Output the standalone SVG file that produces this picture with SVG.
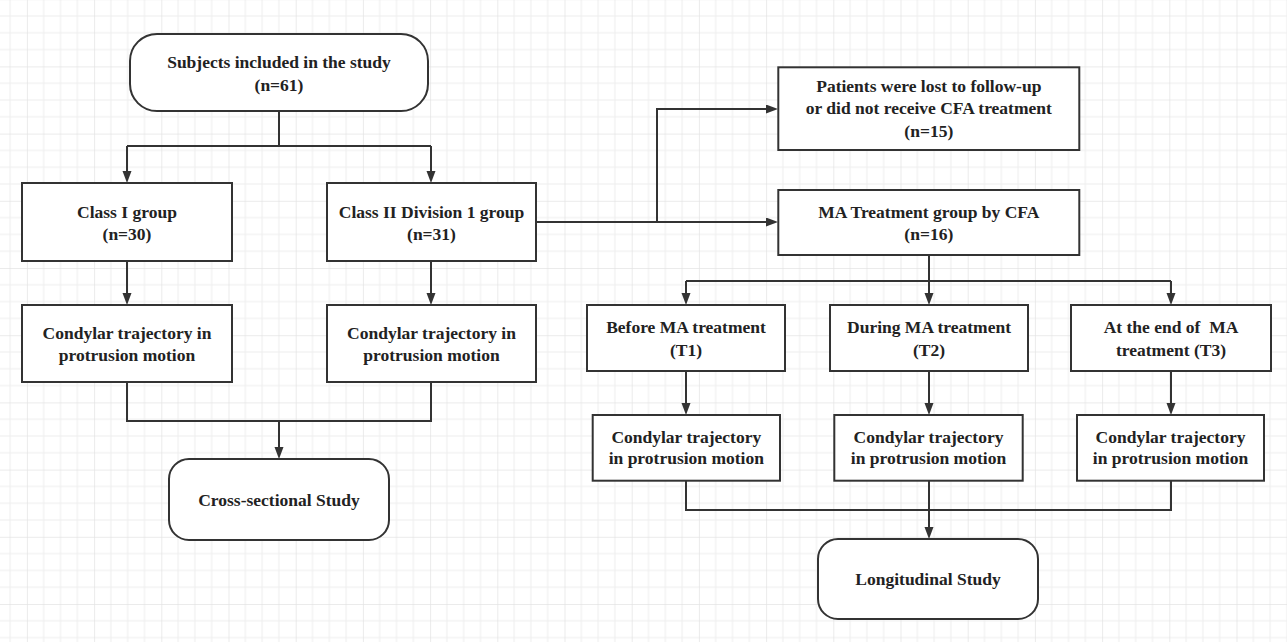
<svg xmlns="http://www.w3.org/2000/svg" width="1287" height="642" viewBox="0 0 1287 642">
<defs>
<pattern id="grid" patternUnits="userSpaceOnUse" x="26.9" y="66.4" width="67.2" height="67.2">
<rect x="0" y="0" width="67.2" height="67.2" fill="#ffffff"/>
<g fill="#efefef">
<rect x="16.3" y="0" width="1" height="67.2"/>
<rect x="33.1" y="0" width="1" height="67.2"/>
<rect x="49.9" y="0" width="1" height="67.2"/>
<rect x="0" y="16.3" width="67.2" height="1"/>
<rect x="0" y="33.1" width="67.2" height="1"/>
<rect x="0" y="49.9" width="67.2" height="1"/>
</g>
<g fill="#e3e3e3">
<rect x="-0.6" y="0" width="1.3" height="67.2"/>
<rect x="0" y="-0.6" width="67.2" height="1.3"/>
</g>
</pattern>
<marker id="arr" markerUnits="userSpaceOnUse" markerWidth="13" markerHeight="10" refX="9" refY="4.5" orient="auto">
<path d="M0,0 L12,4.5 L0,9 Z" fill="#333"/>
</marker>
<style>
.box{fill:#ffffff;stroke:#333333;stroke-width:2}
.t{font-family:"Liberation Serif","Times New Roman",serif;font-weight:bold;font-size:17.5px;fill:#222222;text-anchor:middle}
.c{fill:none;stroke:#333333;stroke-width:2}
.a{marker-end:url(#arr)}
</style>
</defs>
<rect x="0" y="0" width="1287" height="642" fill="url(#grid)"/>

<g id="connectors">
<path class="c" d="M279,111 V146 M127,146 H431"/>
<path class="c a" d="M127,146 V180"/>
<path class="c a" d="M431,146 V180"/>
<path class="c a" d="M127,261 V302"/>
<path class="c a" d="M431,261 V302"/>
<path class="c" d="M127,382 V421 H431 V382"/>
<path class="c a" d="M279,421 V456"/>
<path class="c a" d="M536,222 H775"/>
<path class="c a" d="M657,222 V109 H775"/>
<path class="c" d="M929,255 V281 M686,281 H1171"/>
<path class="c a" d="M686,281 V302"/>
<path class="c a" d="M929,281 V302"/>
<path class="c a" d="M1171,281 V302"/>
<path class="c a" d="M686,371 V412"/>
<path class="c a" d="M929,371 V412"/>
<path class="c a" d="M1171,371 V412"/>
<path class="c" d="M686,481 V510 H1171 V481"/>
<path class="c a" d="M929,481 V536"/>
</g>

<g id="start">
<rect class="box" x="130" y="34" width="298" height="77" rx="27" ry="27"/>
<text class="t" x="279" y="68">Subjects included in the study</text>
<text class="t" x="279" y="91">(n=61)</text>
</g>
<g id="class1">
<rect class="box" x="22" y="183" width="210" height="78"/>
<text class="t" x="127" y="218">Class I group</text>
<text class="t" x="127" y="240">(n=30)</text>
</g>
<g id="class2">
<rect class="box" x="327" y="183" width="209" height="78"/>
<text class="t" x="431.5" y="218">Class II Division 1 group</text>
<text class="t" x="431.5" y="240">(n=31)</text>
</g>
<g id="cond1">
<rect class="box" x="22" y="305" width="210" height="77"/>
<text class="t" x="127" y="338.5">Condylar trajectory in</text>
<text class="t" x="127" y="360.7">protrusion motion</text>
</g>
<g id="cond2">
<rect class="box" x="327" y="305" width="209" height="77"/>
<text class="t" x="431.5" y="338.5">Condylar trajectory in</text>
<text class="t" x="431.5" y="360.7">protrusion motion</text>
</g>
<g id="cross">
<rect class="box" x="169" y="459" width="220" height="81" rx="20" ry="20"/>
<text class="t" x="279" y="506">Cross-sectional Study</text>
</g>
<g id="lost">
<rect class="box" x="778.3" y="67.3" width="301" height="82.7"/>
<text class="t" x="928.8" y="92.3">Patients were lost to follow-up</text>
<text class="t" x="928.8" y="114.3">or did not receive CFA treatment</text>
<text class="t" x="928.8" y="136.5">(n=15)</text>
</g>
<g id="ma">
<rect class="box" x="778.3" y="190" width="301" height="65"/>
<text class="t" x="928.8" y="217.7">MA Treatment group by CFA</text>
<text class="t" x="928.8" y="239.5">(n=16)</text>
</g>
<g id="t1">
<rect class="box" x="587" y="305" width="198" height="66"/>
<text class="t" x="686" y="332.7">Before MA treatment</text>
<text class="t" x="686" y="355.5">(T1)</text>
</g>
<g id="t2">
<rect class="box" x="830" y="305" width="198" height="66"/>
<text class="t" x="929" y="332.7">During MA treatment</text>
<text class="t" x="929" y="355.5">(T2)</text>
</g>
<g id="t3">
<rect class="box" x="1071" y="305" width="200" height="66"/>
<text class="t" x="1171" y="332.7">At the end of&#160; MA</text>
<text class="t" x="1171" y="355.5">treatment (T3)</text>
</g>
<g id="c1">
<rect class="box" x="592.7" y="415" width="187.3" height="65.7"/>
<text class="t" x="686.3" y="442.7">Condylar trajectory</text>
<text class="t" x="686.3" y="464.3">in protrusion motion</text>
</g>
<g id="c2">
<rect class="box" x="834.3" y="415" width="188.4" height="65.7"/>
<text class="t" x="928.5" y="442.7">Condylar trajectory</text>
<text class="t" x="928.5" y="464.3">in protrusion motion</text>
</g>
<g id="c3">
<rect class="box" x="1077" y="415" width="187" height="65.7"/>
<text class="t" x="1170.5" y="442.7">Condylar trajectory</text>
<text class="t" x="1170.5" y="464.3">in protrusion motion</text>
</g>
<g id="long">
<rect class="box" x="818" y="539" width="220" height="80" rx="20" ry="20"/>
<text class="t" x="928" y="585">Longitudinal Study</text>
</g>
</svg>
